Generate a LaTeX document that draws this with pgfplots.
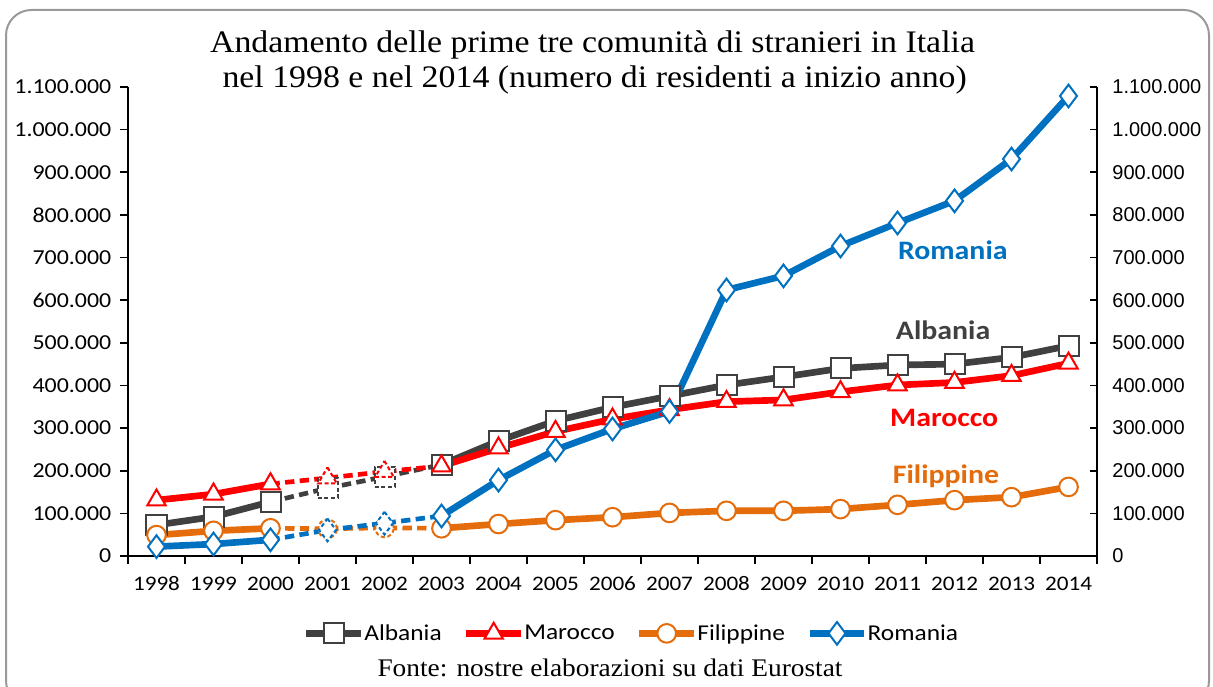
\documentclass[border=0pt]{standalone}
\usepackage{fontspec}
\setmainfont{Liberation Serif}
\newfontfamily\calfont[FakeStretch=1.12]{Carlito}
\newfontfamily\ttlfont[FakeStretch=1.08]{Liberation Serif}
\newfontfamily\arlfont{Liberation Sans}
\usepackage{pgfplots}
\pgfplotsset{compat=1.18}
\definecolor{cAlb}{HTML}{404040}
\definecolor{cMar}{HTML}{FF0000}
\definecolor{cFil}{HTML}{E46C0A}
\definecolor{cRom}{HTML}{0070C0}
\begin{document}
\begin{tikzpicture}
\useasboundingbox (0pt,0pt) rectangle (909.75pt,514.5pt);
\draw[gray!80, line width=1.5pt, rounded corners=19pt] (4.5pt,-15pt) rectangle (906.75pt,507pt);
\node[font=\ttlfont\fontsize{23.5}{26}\selectfont] at (444.4pt,480.75pt) {Andamento delle prime tre comunità di stranieri in Italia};
\node[font=\ttlfont\fontsize{23.5}{26}\selectfont] at (446pt,454.5pt) {nel 1998 e nel 2014 (numero di residenti a inizio anno)};
\node[font=\ttlfont\fontsize{19}{22}\selectfont] at (457.5pt,13.5pt) {Fonte: nostre elaborazioni su dati Eurostat};
\pgfplotsset{
  ser/.style={line width=5pt, mark size=7.5pt, mark options={solid, fill=white, line width=1.5pt}},
  dsh/.style={line width=3.5pt, dash pattern=on 7pt off 4pt, mark indices={2,3}, mark options={dash pattern=on 3pt off 2pt, fill=white, line width=1.5pt}},
}
\begin{axis}[
  at={(96pt,97.5pt)}, anchor=south west,
  scale only axis, width=726.75pt, height=351.75pt,
  xmin=-0.5, xmax=16.5, ymin=0, ymax=1100000,
  axis x line*=bottom, axis y line*=left,
  axis line style={line width=1.5pt, -},
  tick style={line width=1.2pt, black},
  tick align=outside,
  xtick={0,...,16},
  xticklabels={1998,1999,2000,2001,2002,2003,2004,2005,2006,2007,2008,2009,2010,2011,2012,2013,2014},
  major x tick style={draw=none},
  minor xtick={-0.5,0.5,...,16.5},
  minor tick length=6pt,
  major tick length=6pt,
  xticklabel style={font=\calfont\fontsize{15.5}{17}\selectfont, anchor=base, yshift=-20pt},
  ytick={0,100000,...,1100000},
  yticklabels={0,100.000,200.000,300.000,400.000,500.000,600.000,700.000,800.000,900.000,1.000.000,1.100.000},
  yticklabel style={font=\calfont\fontsize{16}{18}\selectfont, xshift=-3pt},
  scaled y ticks=false,
  clip=false,
  legend columns=4,
  legend style={draw=none, fill=none, at={(0.52,-0.165)}, anchor=center,
    font=\calfont\fontsize{17}{19}\selectfont,
    /tikz/every even column/.append style={column sep=14pt},
    /tikz/every odd column/.append style={column sep=-2pt}},
  legend image code/.code={
    \draw[#1, mark repeat=2, mark phase=2] plot coordinates {(0pt,0pt) (20.5pt,0pt) (41pt,0pt)};
  },
]
% Albania
\addplot[ser, cAlb, mark=square*, forget plot] coordinates {(0,72700)(1,92000)(2,127000)};
\addplot[ser, cAlb, mark=square*, dsh, forget plot] coordinates {(2,127000)(3,159000)(4,186000)(5,214000)};
\addplot[ser, cAlb, mark=square*] coordinates {(5,214000)(6,270000)(7,317000)(8,349000)(9,375000)(10,401000)(11,420000)(12,440000)(13,448000)(14,450000)(15,466000)(16,493000)};
\addlegendentry{Albania}
% Marocco
\addplot[ser, cMar, mark=triangle*, mark size=8pt, forget plot] coordinates {(0,131000)(1,145000)(2,169000)};
\addplot[ser, cMar, mark=triangle*, mark size=8pt, dsh, forget plot] coordinates {(2,169000)(3,183000)(4,198000)(5,211000)};
\addplot[ser, cMar, mark=triangle*, mark size=8pt] coordinates {(5,211000)(6,253000)(7,292000)(8,321000)(9,343000)(10,362000)(11,366000)(12,385000)(13,401000)(14,407000)(15,423000)(16,452000)};
\addlegendentry{Marocco}
% Filippine
\addplot[ser, cFil, mark=*, mark size=7pt, forget plot] coordinates {(0,49000)(1,59000)(2,65000)};
\addplot[ser, cFil, mark=*, mark size=7pt, dsh, forget plot] coordinates {(2,65000)(3,64000)(4,66000)(5,65000)};
\addplot[ser, cFil, mark=*, mark size=7pt] coordinates {(5,65000)(6,75000)(7,84000)(8,91000)(9,101000)(10,106000)(11,106000)(12,110000)(13,120000)(14,131000)(15,138000)(16,162000)};
\addlegendentry{Filippine}
% Romania
\addplot[ser, cRom, mark=diamond*, mark size=8.5pt, forget plot] coordinates {(0,22000)(1,28000)(2,38000)};
\addplot[ser, cRom, mark=diamond*, mark size=8.5pt, dsh, forget plot] coordinates {(2,38000)(3,61000)(4,77000)(5,94000)};
\addplot[ser, cRom, mark=diamond*, mark size=8.5pt] coordinates {(5,94000)(6,178000)(7,249000)(8,298000)(9,339000)(10,624000)(11,657000)(12,727000)(13,781000)(14,833000)(15,931000)(16,1079000)};
\addlegendentry{Romania}
\node[font=\calfont\bfseries\fontsize{20}{23}\selectfont, text=cRom] at (axis cs:13.97,717000) {Romania};
\node[font=\calfont\bfseries\fontsize{20}{23}\selectfont, text=cAlb] at (axis cs:13.8,530000) {Albania};
\node[font=\calfont\bfseries\fontsize{20}{23}\selectfont, text=cMar] at (axis cs:13.82,324000) {Marocco};
\node[font=\calfont\bfseries\fontsize{20}{23}\selectfont, text=cFil] at (axis cs:13.85,186000) {Filippine};
\end{axis}
\begin{axis}[
  at={(96pt,97.5pt)}, anchor=south west,
  scale only axis, width=726.75pt, height=351.75pt,
  xmin=-0.5, xmax=16.5, ymin=0, ymax=1100000,
  axis x line=none, axis y line*=right,
  axis line style={line width=1.5pt, -},
  tick style={line width=1.2pt, black},
  tick align=inside, major tick length=5pt,
  ytick={0,100000,...,1100000},
  yticklabels={0,100.000,200.000,300.000,400.000,500.000,600.000,700.000,800.000,900.000,1.000.000,1.100.000},
  yticklabel style={font=\arlfont\fontsize{15}{17}\selectfont, xshift=8pt},
  scaled y ticks=false,
]
\addplot[draw=none, forget plot] coordinates {(0,0)};
\end{axis}
\end{tikzpicture}
\end{document}
